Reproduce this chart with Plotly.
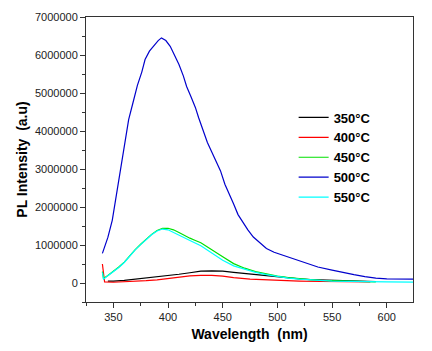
import plotly.graph_objects as go

# 350 °C (black)
x350 = [345, 350, 360, 370, 380, 390, 400, 410, 420, 430, 440, 450, 460, 470, 480, 490, 500, 510, 520, 530, 540, 550, 570, 590]
y350 = [0.05, 0.05, 0.07, 0.10, 0.13, 0.16, 0.19, 0.23, 0.27, 0.31, 0.32, 0.31, 0.28, 0.25, 0.22, 0.19, 0.16, 0.13, 0.11, 0.09, 0.08, 0.07, 0.05, 0.04]

# 400 °C (red)
x400 = [340, 342, 350, 360, 370, 380, 390, 400, 410, 420, 430, 440, 450, 460, 475, 490, 500, 510, 520, 540, 560, 585]
y400 = [0.50, 0.03, 0.02, 0.03, 0.04, 0.06, 0.08, 0.12, 0.16, 0.19, 0.20, 0.20, 0.18, 0.14, 0.10, 0.08, 0.07, 0.06, 0.05, 0.04, 0.03, 0.03]

# 450 °C (green)
x450 = [340, 341, 345, 350, 355, 360, 365, 370, 375, 380, 385, 390, 395, 400, 405, 410, 415, 420, 425, 430, 435, 440, 445, 450, 460, 470, 480, 490, 500, 510, 520, 530, 540, 560, 590]
y450 = [0.30, 0.12, 0.20, 0.30, 0.42, 0.55, 0.72, 0.88, 1.02, 1.15, 1.28, 1.38, 1.44, 1.44, 1.40, 1.33, 1.25, 1.18, 1.12, 1.06, 0.97, 0.87, 0.78, 0.69, 0.51, 0.39, 0.30, 0.23, 0.18, 0.14, 0.11, 0.09, 0.07, 0.05, 0.03]

# 500 °C (blue)
x500 = [340, 345, 349, 352, 356, 360, 364, 368, 372, 376, 379, 383, 387, 391, 394, 398, 402, 406, 410, 414, 417, 421, 425, 428, 432, 436, 440, 444, 448, 452, 456, 460, 464, 469, 473, 478, 484, 490, 497, 505, 512, 520, 528, 537, 550, 560, 570, 580, 590, 600, 625]
y500 = [0.78, 1.20, 1.65, 2.20, 2.90, 3.60, 4.30, 4.75, 5.20, 5.55, 5.88, 6.10, 6.25, 6.38, 6.45, 6.38, 6.23, 6.00, 5.75, 5.45, 5.17, 4.90, 4.62, 4.35, 4.03, 3.70, 3.45, 3.20, 2.95, 2.60, 2.35, 2.08, 1.80, 1.57, 1.40, 1.21, 1.05, 0.91, 0.81, 0.73, 0.66, 0.60, 0.51, 0.42, 0.34, 0.27, 0.22, 0.17, 0.13, 0.11, 0.10]

# 550 °C (cyan)
x550 = [340, 341, 345, 350, 355, 360, 365, 370, 375, 380, 385, 390, 395, 400, 410, 420, 430, 440, 445, 450, 460, 470, 480, 490, 500, 510, 520, 530, 550, 600, 625]
y550 = [0.28, 0.10, 0.19, 0.29, 0.41, 0.54, 0.71, 0.87, 1.01, 1.14, 1.27, 1.37, 1.42, 1.40, 1.27, 1.12, 0.98, 0.80, 0.69, 0.60, 0.45, 0.36, 0.28, 0.22, 0.17, 0.13, 0.10, 0.08, 0.05, 0.03, 0.02]

series = [
    ("350°C", x350, y350, "#000000"),
    ("400°C", x400, y400, "#ff0000"),
    ("450°C", x450, y450, "#00e000"),
    ("500°C", x500, y500, "#0000cc"),
    ("550°C", x550, y550, "#00ffff"),
]

fig = go.Figure()
for name, xs, ys, col in series:
    fig.add_trace(go.Scatter(x=xs, y=[v * 1e6 for v in ys], mode="lines",
                             name="<b>" + name + "</b>",
                             line=dict(color=col, width=1.2)))

axis_font = dict(family="Liberation Sans, Arial, sans-serif", size=11, color="#222")
fig.update_layout(
    width=432, height=351,
    margin=dict(l=86, r=19, t=17, b=49),
    paper_bgcolor="white", plot_bgcolor="white",
    showlegend=True,
    legend=dict(x=0.635, y=0.70, xanchor="left", yanchor="top",
                bgcolor="rgba(0,0,0,0)", tracegroupgap=0,
                font=dict(family="Liberation Sans, Arial, sans-serif", size=13, color="#000"),
                itemwidth=30),
    xaxis=dict(range=[325, 624], tickvals=[350, 400, 450, 500, 550, 600],
               ticks="outside", ticklen=5, tickcolor="#333", automargin=False,
               minor=dict(ticks="outside", ticklen=3, dtick=25, tick0=325, tickcolor="#333"),
               showgrid=False, zeroline=False, showline=True, linecolor="#333", linewidth=1,
               mirror=True, tickfont=axis_font,
               title=dict(text="<b>Wavelength  (nm)</b>", standoff=6,
                          font=dict(family="Liberation Sans, Arial, sans-serif", size=14, color="#000"))),
    yaxis=dict(range=[-500000, 7000000], tickvals=[0, 1e6, 2e6, 3e6, 4e6, 5e6, 6e6, 7e6],
               tickformat="d", ticks="outside", ticklen=5, tickcolor="#333", automargin=False,
               minor=dict(ticks="outside", ticklen=3, dtick=500000, tick0=0, tickcolor="#333"),
               showgrid=False, zeroline=False, showline=True, linecolor="#333", linewidth=1,
               mirror=True, tickfont=axis_font,
               title=dict(text="<b>PL Intensity  (a.u)</b>", standoff=4,
                          font=dict(family="Liberation Sans, Arial, sans-serif", size=14, color="#000"))),
)

fig.write_html("out.html", config={"displayModeBar": False},
               post_script="document.body.style.margin='0';")
